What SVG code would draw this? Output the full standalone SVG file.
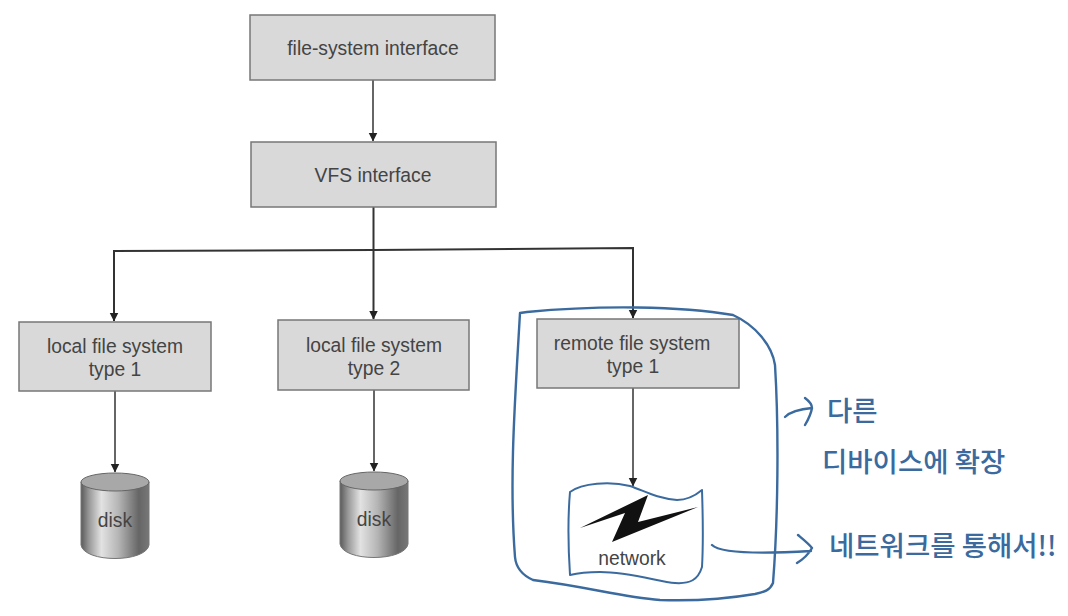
<svg xmlns="http://www.w3.org/2000/svg" width="1068" height="616" viewBox="0 0 1068 616">
<style>
.box{fill:#d9d9d9;stroke:#777;stroke-width:1.5}
.t{font-family:"Liberation Sans",Arial,sans-serif;font-size:19.300px;fill:#444;text-anchor:middle}
.c{fill:none;stroke:#333;stroke-width:1.5}
.ink{fill:none;stroke:#3a6a9e;stroke-width:2.4;stroke-linecap:round;stroke-linejoin:round}
.hw{font-family:"Noto Sans CJK KR","Noto Sans",sans-serif;font-size:27.500px;fill:#3a6a9e;font-weight:500}
.top{fill:#a8a8a8;stroke:#666;stroke-width:1}
.body{fill:url(#cyl);stroke:#777;stroke-width:1}
</style>
<defs>
<marker id="a" markerWidth="10" markerHeight="10" refX="8.500" refY="4.500" orient="auto" markerUnits="userSpaceOnUse"><path d="M0 0L9 4.500L0 9Z" fill="#222"/></marker>
<linearGradient id="cyl" x1="0" x2="1" y1="0" y2="0"><stop offset="0" stop-color="#5a5a5a"/><stop offset=".12" stop-color="#999"/><stop offset=".3" stop-color="#e2e2e2"/><stop offset=".55" stop-color="#b5b5b5"/><stop offset=".85" stop-color="#666"/><stop offset="1" stop-color="#777"/></linearGradient>
</defs>
<rect width="1068" height="616" fill="#fff"/>
<g id="connectors">
<path class="c" marker-end="url(#a)" d="M373 80V141"/>
<path class="c" style="stroke-width:2" marker-end="url(#a)" d="M373.500 207V319"/>
<path class="c" style="stroke-width:2" marker-end="url(#a)" d="M373.500 250L114 251V321"/>
<path class="c" style="stroke-width:2" marker-end="url(#a)" d="M373.500 250L633 248V318"/>
<path class="c" marker-end="url(#a)" d="M115 391V472"/>
<path class="c" marker-end="url(#a)" d="M374 390V471"/>
<path class="c" marker-end="url(#a)" d="M633 388V486"/>
</g>
<g id="node-fsi"><rect class="box" x="250" y="15" width="245" height="65"/><text class="t" x="373" y="55">file-system interface</text></g>
<g id="node-vfs"><rect class="box" x="251" y="142" width="245" height="65"/><text class="t" x="373" y="182">VFS interface</text></g>
<g id="node-local1"><rect class="box" x="19" y="322" width="192" height="69"/><text class="t" x="115" y="353">local file system</text><text class="t" x="115" y="376">type 1</text></g>
<g id="node-local2"><rect class="box" x="278" y="320" width="191" height="70"/><text class="t" x="374" y="352">local file system</text><text class="t" x="374" y="375">type 2</text></g>
<g id="node-remote"><rect class="box" x="537" y="319" width="202" height="69"/><text class="t" x="632" y="350">remote file system</text><text class="t" x="633" y="373">type 1</text></g>
<g id="node-disk1"><path class="body" d="M81 482V545C84 563 146 563 149 545V482Z"/><ellipse class="top" cx="115" cy="482" rx="34" ry="9"/><text class="t" x="115" y="527">disk</text></g>
<g id="node-disk2"><path class="body" d="M340 481V544C343 562 405 562 408 544V481Z"/><ellipse class="top" cx="374" cy="481" rx="34" ry="9"/><text class="t" x="374" y="526">disk</text></g>
<g id="node-network">
<path class="ink" style="stroke-width:2" d="M570 492C582 483 610 481 630 486C645 491 655 498 677 500C688 500 696 495 702 490C703 520 703 550 702 567C698 580 690 584 675 583C660 582 630 572 600 572C588 572 578 573 570 575C568 545 568 515 570 492Z"/>
<path d="M648 495L580 528L625 513L612 542L698 507L638 522Z" fill="#111"/>
<text class="t" x="632" y="565">network</text>
</g>
<g id="annotations">
<path class="ink" d="M520 313L527 312C600 305 680 306 733 315C755 325 772 345 775 365C779 430 778 520 773 583C770 590 765 592 755 594C720 600 690 601 660 600C620 597 590 587 533 580C522 575 516 568 515 557C509 480 515 400 520 313"/>
<path class="ink" d="M785 417C790 412 800 409 812 408M805 398C809 401 812 405 812 408C811 414 808 420 805 425"/>
<path class="ink" d="M712 545C720 553 760 554 811 551M798 535C804 540 809 544 812 548C808 555 802 560 797 563"/>
<text class="hw" x="827" y="421">다른</text>
<text class="hw" x="822" y="472">디바이스에 확장</text>
<text class="hw" x="829" y="556">네트워크를 통해서!!</text>
</g>
</svg>
